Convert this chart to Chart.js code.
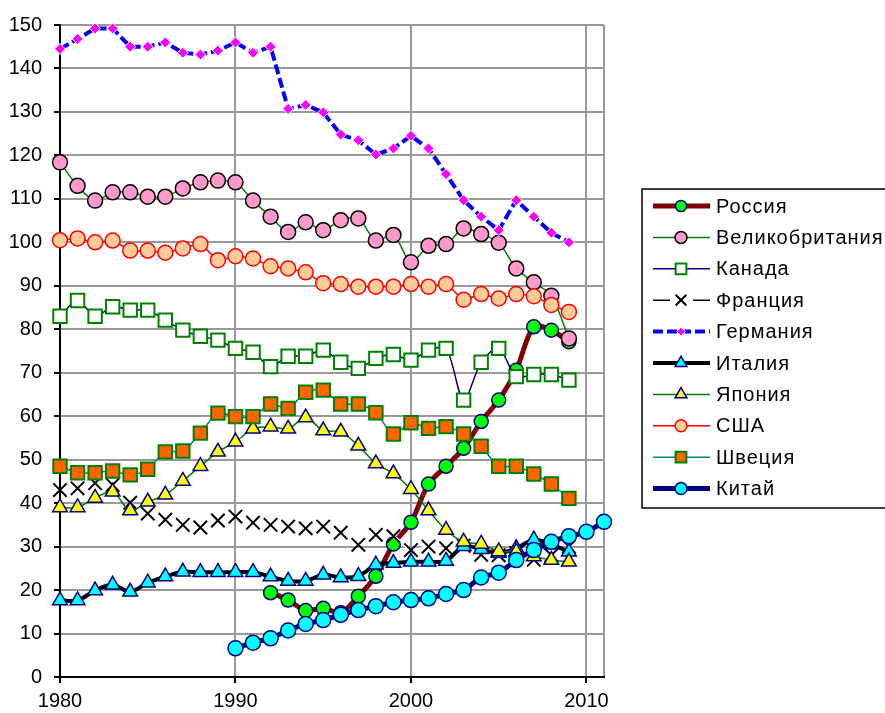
<!DOCTYPE html>
<html>
<head>
<meta charset="utf-8">
<script src="https://cdn.jsdelivr.net/npm/chart.js@4/dist/chart.umd.min.js"></script>
<style>
  html, body { margin: 0; padding: 0; background: #fff; }
</style>
</head>
<body>
<canvas id="chart" width="885" height="713"></canvas>
<script>
// years
const years = [1980, 1981, 1982, 1983, 1984, 1985, 1986, 1987, 1988, 1989,
               1990, 1991, 1992, 1993, 1994, 1995, 1996, 1997, 1998, 1999,
               2000, 2001, 2002, 2003, 2004, 2005, 2006, 2007, 2008, 2009];
const russiaYears = [1992, 1993, 1994, 1995, 1996, 1997, 1998, 1999, 2000,
                     2001, 2002, 2003, 2004, 2005, 2006, 2007, 2008, 2009];
const chinaYears = [1990, 1991, 1992, 1993, 1994, 1995, 1996, 1997, 1998, 1999, 2000,
                    2001, 2002, 2003, 2004, 2005, 2006, 2007, 2008, 2009, 2010, 2011];

// values
const russia = [19.4, 17.7, 15.3, 15.8, 14.8, 18.6, 23.2, 30.6, 35.6,
                44.4, 48.5, 52.6, 58.8, 63.7, 70.6, 80.6, 79.8, 77.1];
const uk = [118.4, 113.0, 109.6, 111.5, 111.5, 110.5, 110.5, 112.4, 113.8, 114.2,
            113.8, 109.6, 105.9, 102.4, 104.6, 102.8, 105.1, 105.5, 100.4, 101.7,
            95.4, 99.2, 99.6, 103.2, 101.9, 99.9, 94.0, 90.8, 87.7, 77.9];
const canada = [83.0, 86.6, 83.0, 85.2, 84.4, 84.4, 82.1, 79.8, 78.4, 77.5,
                75.6, 74.7, 71.4, 73.8, 73.8, 75.2, 72.4, 71.0, 73.3, 74.2,
                72.9, 75.2, 75.6, 63.7, 72.4, 75.6, 69.1, 69.6, 69.6, 68.3];
const france = [43.0, 43.4, 44.6, 44.2, 40.1, 37.6, 36.2, 35.0, 34.4, 36.0,
                36.9, 35.5, 35.0, 34.6, 34.2, 34.6, 33.2, 30.4, 32.7, 32.4,
                29.2, 30.0, 29.6, 30.2, 28.1, 28.0, 28.5, 27.0, 28.0, 30.0];
const germany = [144.5, 146.8, 149.2, 149.2, 145.0, 145.0, 146.0, 143.6, 143.2, 144.1,
                 146.0, 143.6, 145.0, 130.7, 131.6, 129.9, 124.8, 123.5, 120.2, 121.6,
                 124.5, 121.6, 115.7, 109.7, 105.9, 102.8, 109.7, 105.9, 102.2, 100.0];
const italy = [17.6, 17.6, 19.9, 21.2, 19.6, 21.7, 23.1, 24.2, 24.1, 24.1,
               24.1, 24.1, 23.1, 22.1, 22.1, 23.5, 22.9, 23.2, 25.8, 26.2,
               26.5, 26.5, 26.7, 30.1, 29.4, 28.5, 29.6, 31.6, 30.5, 28.8];
const japan = [39.0, 39.0, 41.2, 42.6, 38.3, 40.3, 41.9, 45.1, 48.5, 51.8,
               54.1, 57.1, 57.6, 57.1, 59.7, 56.7, 56.4, 53.2, 49.1, 46.8,
               43.2, 38.3, 33.8, 31.1, 30.6, 28.9, 28.8, 27.7, 26.9, 26.5];
const usa = [100.5, 100.9, 100.0, 100.4, 98.1, 98.1, 97.6, 98.6, 99.6, 95.9,
             96.8, 96.3, 94.5, 94.0, 93.1, 90.6, 90.4, 89.8, 89.8, 89.8,
             90.4, 89.8, 90.4, 86.8, 88.1, 87.1, 88.1, 87.6, 85.6, 84.0];
const sweden = [48.5, 47.0, 47.0, 47.4, 46.5, 47.8, 51.8, 52.0, 56.1, 60.7,
                59.9, 59.9, 62.8, 61.8, 65.5, 66.0, 62.8, 62.8, 60.8, 55.9,
                58.5, 57.2, 57.6, 55.9, 53.1, 48.5, 48.5, 46.7, 44.4, 41.1];
const china = [6.6, 7.9, 8.9, 10.7, 12.2, 13.1, 14.3, 15.4, 16.3, 17.2, 17.7,
               18.1, 19.1, 20.0, 22.9, 24.0, 26.9, 29.2, 31.1, 32.4, 33.4, 35.7];

const xTicks = [1980, 1990, 2000, 2010, 2011];

const pts = (xs, ys) => xs.map((x, i) => ({ x: x, y: ys[i] }));
const font = { family: '"Liberation Sans", Arial, sans-serif', size: 20 };

function series(label, xs, ys, line, mark) {
  return Object.assign({
    label: label,
    data: pts(xs, ys),
    fill: false,
    tension: 0.3,
    clip: false,
    borderWidth: 1.5,
    pointBorderWidth: 1.5,
    pointRadius: 7.5,
    pointStyle: 'circle'
  }, line, mark);
}

const datasets = [
  series('Россия', russiaYears, russia,
    { borderColor: '#800000', borderWidth: 5 },
    { pointBackgroundColor: '#00ff00', pointBorderColor: '#000080', pointRadius: 7 }),
  series('Великобритания', years, uk,
    { borderColor: '#008000' },
    { pointBackgroundColor: '#ff99cc', pointBorderColor: '#000', pointRadius: 7.5 }),
  series('Канада', years, canada,
    { borderColor: '#000080' },
    { pointStyle: 'rect', pointBackgroundColor: '#fff', pointBorderColor: '#008000', pointRadius: 9.5, pointBorderWidth: 2 }),
  series('Франция', years, france,
    { borderColor: '#fff', borderWidth: 2.5, legendColor: '#000', legendWidth: 1.5, legendGap: true },
    { pointStyle: 'crossRot', pointBackgroundColor: '#000', pointBorderColor: '#000', pointRadius: 9.5, pointBorderWidth: 2 }),
  series('Германия', years, germany,
    { borderColor: '#0000ff', borderWidth: 4, borderDash: [10, 4], tension: 0 },
    { pointStyle: 'rectRot', pointBackgroundColor: '#ff00ff', pointBorderColor: '#fff', pointRadius: 5.5, pointBorderWidth: 1 }),
  series('Италия', years, italy,
    { borderColor: '#000', borderWidth: 4 },
    { pointStyle: 'triangle', pointBackgroundColor: '#00ffff', pointBorderColor: '#000080', pointRadius: 8.5, pointBorderWidth: 1.5 }),
  series('Япония', years, japan,
    { borderColor: '#008000' },
    { pointStyle: 'triangle', pointBackgroundColor: '#ffff00', pointBorderColor: '#000080', pointRadius: 8.5, pointBorderWidth: 1.5 }),
  series('США', years, usa,
    { borderColor: '#ff0000', tension: 0.2 },
    { pointBackgroundColor: '#ffcc99', pointBorderColor: '#ff0000', pointRadius: 7.5 }),
  series('Швеция', years, sweden,
    { borderColor: '#008080' },
    { pointStyle: 'rect', pointBackgroundColor: '#ff6600', pointBorderColor: '#008000', pointRadius: 9.5, pointBorderWidth: 2 }),
  series('Китай', chinaYears, china,
    { borderColor: '#000080', borderWidth: 5 },
    { pointBackgroundColor: '#00ffff', pointBorderColor: '#000080', pointRadius: 7.5 })
];
// later series sit on top, as in the original
datasets.forEach((ds, i) => { ds.order = datasets.length - i; });

// boxed legend with a line sample and marker for each series
const legendBox = {
  id: 'legendBox',
  afterDraw(chart) {
    const ctx = chart.ctx;
    ctx.save();
    ctx.strokeStyle = '#000';
    ctx.lineWidth = 1.5;
    ctx.strokeRect(642, 189, 260, 319);
    chart.data.datasets.forEach((ds, i) => {
      const y = 206 + i * 31.4;
      ctx.save();
      ctx.strokeStyle = ds.legendColor || ds.borderColor;
      ctx.lineWidth = ds.legendWidth || ds.borderWidth;
      ctx.setLineDash(ds.borderDash || []);
      ctx.beginPath();
      if (ds.legendGap) {
        ctx.moveTo(653, y); ctx.lineTo(670, y);
        ctx.moveTo(693, y); ctx.lineTo(710, y);
      } else {
        ctx.moveTo(653, y); ctx.lineTo(710, y);
      }
      ctx.stroke();
      ctx.setLineDash([]);
      ctx.fillStyle = ds.pointBackgroundColor;
      ctx.strokeStyle = ds.pointBorderColor;
      ctx.lineWidth = ds.pointBorderWidth;
      Chart.helpers.drawPoint(ctx, {
        pointStyle: ds.pointStyle,
        radius: ds.pointRadius * 0.8,
        borderWidth: ds.pointBorderWidth,
        rotation: 0
      }, 681, y);
      ctx.restore();
      ctx.save();
      ctx.fillStyle = '#000';
      ctx.font = font.size + 'px ' + font.family;
      ctx.letterSpacing = '1px';
      ctx.textBaseline = 'middle';
      ctx.fillText(ds.label, 716, y + 1);
      ctx.restore();
    });
    ctx.restore();
  }
};

new Chart(document.getElementById('chart'), {
  type: 'line',
  data: { datasets: datasets },
  options: {
    responsive: false,
    animation: false,
    devicePixelRatio: 1,
    layout: { padding: { top: 25, right: 281, left: 0, bottom: 0 } },
    plugins: { legend: { display: false }, tooltip: { enabled: false } },
    scales: {
      x: {
        type: 'linear',
        min: 1980,
        max: 2011,
        afterBuildTicks: s => { s.ticks = xTicks.map(v => ({ value: v })); },
        afterFit: s => { s.height = 36; },
        ticks: {
          font: font,
          color: '#000',
          padding: 6,
          maxRotation: 0,
          autoSkip: false,
          callback: v => (v === 2011 ? '' : String(v))
        },
        grid: {
          color: '#999',
          lineWidth: 2,
          tickLength: 6,
          tickColor: c => (c.tick && c.tick.value === 2011 ? 'rgba(0,0,0,0)' : '#000')
        },
        border: { color: '#000', width: 2 }
      },
      y: {
        min: 0,
        max: 150,
        afterFit: s => { s.width = 60; },
        ticks: { stepSize: 10, font: font, color: '#000', padding: 12 },
        grid: { color: '#999', lineWidth: 2, tickLength: 6, tickColor: '#000' },
        border: { color: '#000', width: 2 }
      }
    }
  },
  plugins: [legendBox]
});
</script>
</body>
</html>
